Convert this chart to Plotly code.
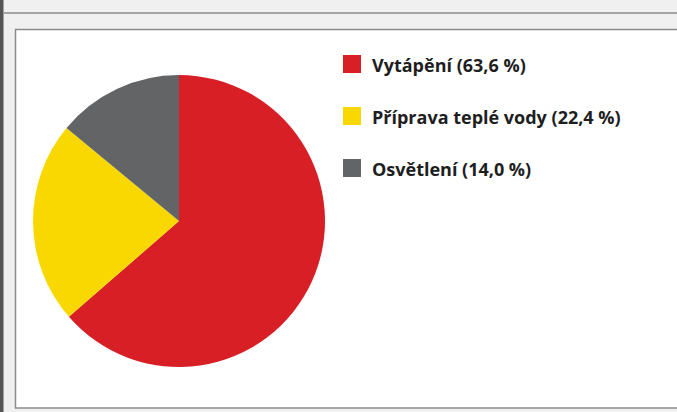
import plotly.graph_objects as go

labels = ["Vytápění", "Příprava teplé vody", "Osvětlení"]
values = [63.6, 22.4, 14.0]
colors = ["#d81f26", "#f8d800", "#636466"]

W, H = 677, 412

fig = go.Figure()
fig.add_trace(go.Pie(
    labels=labels, values=values, sort=False, direction="clockwise", rotation=0,
    marker=dict(colors=colors, line=dict(width=0)),
    textinfo="none", hoverinfo="label+percent", showlegend=False,
    domain=dict(x=[33 / W, 325 / W], y=[1 - 367 / H, 1 - 75 / H]),
))

shapes = [
    # page frame
    dict(type="rect", xref="paper", yref="paper", x0=0, x1=3.5 / W, y0=0, y1=1,
         fillcolor="#555555", line=dict(width=0), layer="below"),
    dict(type="line", xref="paper", yref="paper", x0=3.5 / W, x1=1, y0=1 - 13 / H, y1=1 - 13 / H,
         line=dict(color="#a3a3a3", width=2), layer="below"),
    dict(type="rect", xref="paper", yref="paper", x0=15.5 / W, x1=1.01, y0=1 - 408 / H, y1=1 - 29.5 / H,
         fillcolor="#ffffff", line=dict(color="#8a8a8a", width=1.5), layer="below"),
]
annotations = []
for i, (lab, val, col) in enumerate(zip(labels, values, colors)):
    yc = 64 + 52 * i
    shapes.append(dict(type="rect", xref="paper", yref="paper",
                       x0=343 / W, x1=361 / W, y0=1 - (yc + 9) / H, y1=1 - (yc - 9) / H,
                       fillcolor=col, line=dict(width=0)))
    annotations.append(dict(xref="paper", yref="paper", x=370 / W, y=1 - (yc + 1) / H,
                            xanchor="left", yanchor="middle", showarrow=False,
                            text="<b>%s (%s %%)</b>" % (lab, ("%.1f" % val).replace(".", ",")),
                            font=dict(family="Open Sans", size=18, color="#1e1e1e")))

fig.update_layout(
    width=W, height=H, margin=dict(l=0, r=0, t=0, b=0),
    paper_bgcolor="#eff0ef", plot_bgcolor="#eff0ef",
    shapes=shapes, annotations=annotations,
)
fig.write_html("out.html", config={"displayModeBar": False},
               post_script="document.body.style.margin='0';document.body.style.overflow='hidden';")
